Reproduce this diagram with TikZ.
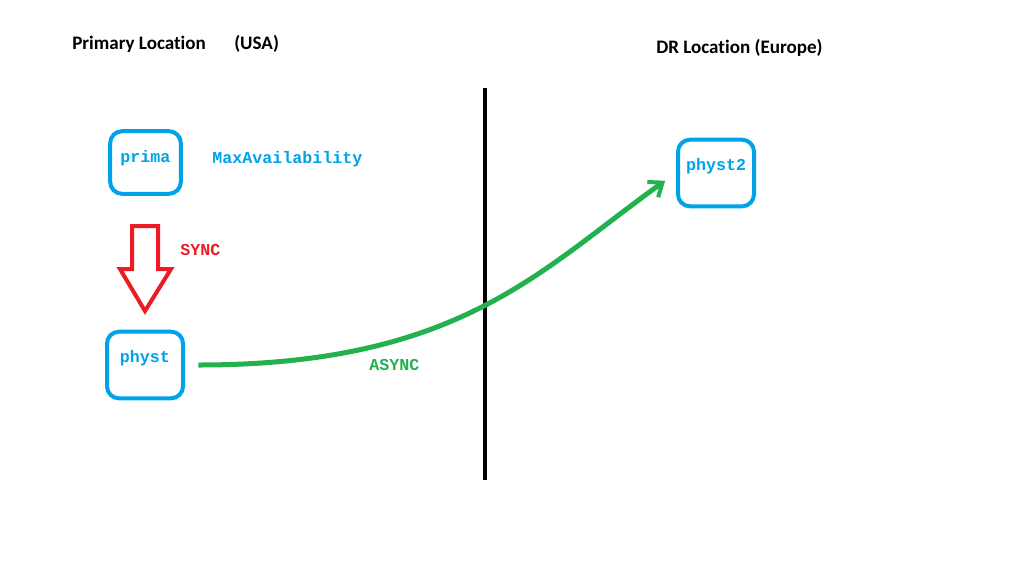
\documentclass[tikz,border=0pt]{standalone}
\usepackage{fontspec}
\setmainfont{Carlito}[Ligatures=NoCommon]
\newfontfamily\codefont{Liberation Mono}
\usetikzlibrary{arrows.meta}
\definecolor{paintblue}{HTML}{00A2E8}
\definecolor{paintred}{HTML}{ED1C24}
\definecolor{paintgreen}{HTML}{22B14C}
\tikzset{
  server/.style={draw=paintblue, line width=3pt, rounded corners=9pt, minimum width=57pt, minimum height=50pt, inner sep=0pt, text=paintblue, font=\codefont\bfseries\fontsize{12.5}{14}\selectfont, text height=8pt, text depth=12pt},
  site/.style={font=\bfseries\fontsize{14.3}{16}\selectfont, anchor=base west, inner sep=0pt},
  tag/.style={font=\codefont\bfseries\fontsize{12.5}{14}\selectfont, anchor=base west, inner sep=0pt}
}

\begin{document}
\begin{tikzpicture}[x=0.75pt, y=-0.75pt]
\useasboundingbox[fill=white] (0,0) rectangle (1031,561);
\node[site] (primloc) at (72,49.5) {Primary Location};
\node[site] (usa) at (234,49.5) {(USA)};
\node[site] (drloc) at (656,53.5) {DR Location (Europe)};
\node[server, minimum width=53pt, minimum height=47pt, text depth=8pt] (prima) at (145.5,162.5) {prima};
\node[tag, text=paintblue] (maxav) at (212,163) {MaxAvailability};
\node[server] (physt) at (145,365) {physt};
\node[server] (physt2) at (716,173) {physt2};
% sync arrow
\draw[paintred, line width=3pt, miter limit=10] (132,226) -- (158,226) -- (158,269) -- (171,269) -- (145,311) -- (120,269) -- (132,269) -- cycle;
\node[tag, text=paintred] (sync) at (180,255) {SYNC};
% border
\draw[line width=3pt] (485,88) -- (485,480);
% async
\draw[paintgreen, line width=3.75pt, shorten <=10pt, shorten >=10pt, -{Straight Barb[length=9pt, width=14pt, line width=3pt]}] (physt.east) .. controls (460,365) and (540,270) .. (physt2.west);
\node[tag, text=paintgreen] (async) at (369,370.5) {ASYNC};
\end{tikzpicture}
\end{document}
